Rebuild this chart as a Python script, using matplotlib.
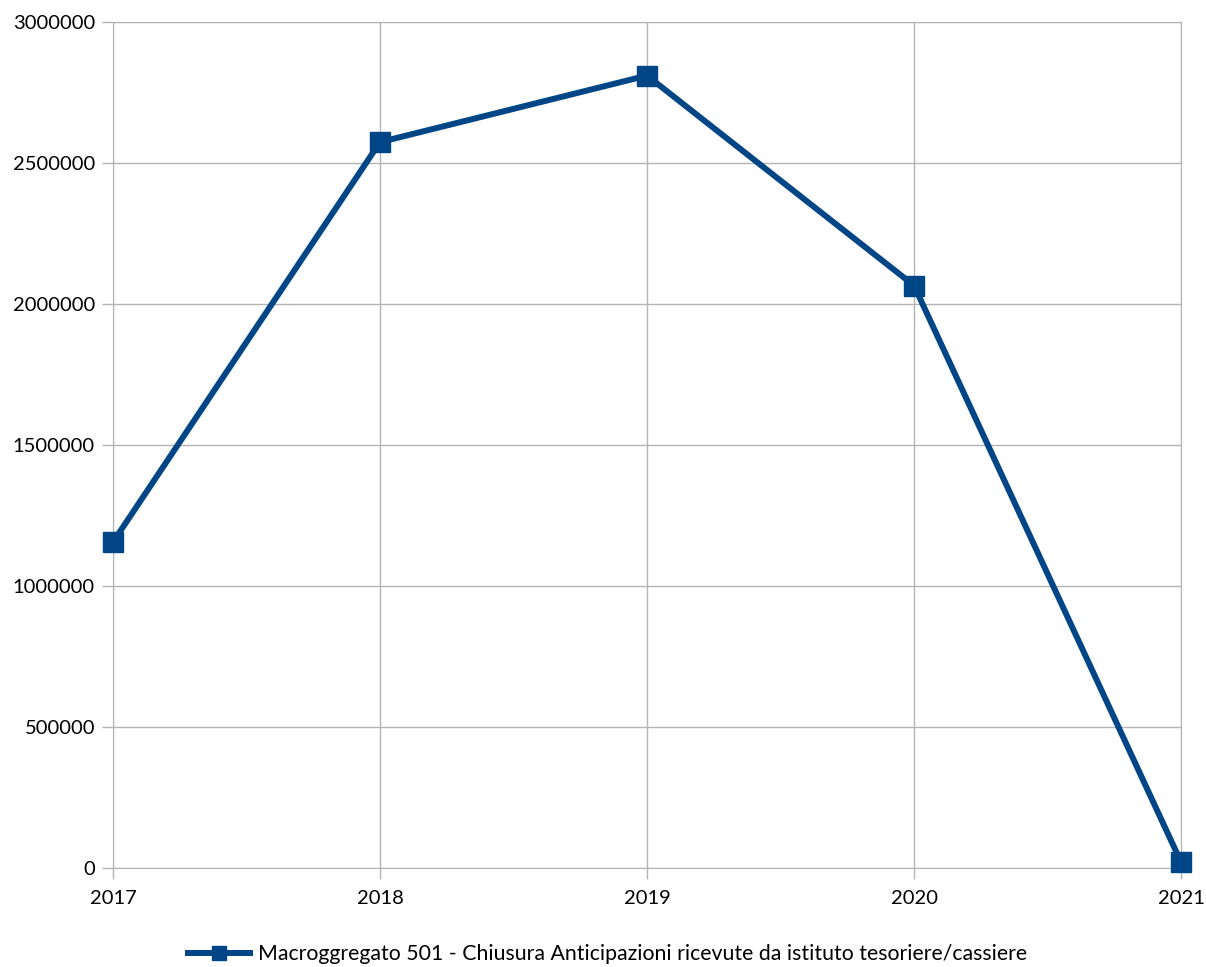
import matplotlib
matplotlib.use('Agg')
import matplotlib.pyplot as plt
from matplotlib.lines import Line2D

plt.rcParams['font.family'] = ['Lato', 'DejaVu Sans']

# data
years = ['2017', '2018', '2019', '2020', '2021']
values = [1156000, 2574000, 2810000, 2065600, 21300]
series_name = 'Macroggregato 501 - Chiusura Anticipazioni ricevute da istituto tesoriere/cassiere'
y_ticks = [0, 500000, 1000000, 1500000, 2000000, 2500000, 3000000]

fig = plt.figure(figsize=(12.06, 9.67), dpi=100)
ax = fig.add_axes([113 / 1206, 99 / 967, 1068 / 1206, 846 / 967])

x = list(range(len(years)))
ax.plot(x, values, color='#004586', linewidth=4.3, marker='s', markersize=14.5,
        clip_on=False, zorder=3)

ax.set_xlim(0, len(years) - 1)
ax.set_ylim(0, 3000000)
ax.set_xticks(x)
ax.set_xticklabels(years)
ax.set_yticks(y_ticks)
ax.set_yticklabels([str(v) for v in y_ticks])

ax.grid(True, color='#b3b3b3', linewidth=1)
ax.set_axisbelow(True)
for s in ['top', 'right', 'left', 'bottom']:
    ax.spines[s].set_color('#b3b3b3')
ax.tick_params(axis='both', colors='#b3b3b3', labelcolor='black', labelsize=14.5,
               length=8, width=1)
ax.tick_params(axis='y', pad=5)
ax.tick_params(axis='x', pad=8)

handle = Line2D([], [], color='#004586', linewidth=4.3, marker='s', markersize=10)
fig.legend([handle], [series_name], loc='center', bbox_to_anchor=(0.504, 0.013),
           frameon=False, handlelength=2.9, handletextpad=0.4,
           prop={'size': 15.3})

fig.savefig('out.png', dpi=100)
